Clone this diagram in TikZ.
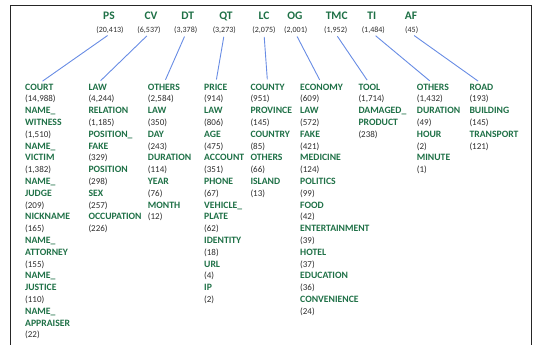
\documentclass[tikz,border=0pt]{standalone}
\usepackage{fontspec}
\setmainfont{Carlito}
\definecolor{lblgreen}{RGB}{30,112,70}
\definecolor{linkblue}{RGB}{104,140,228}
\definecolor{cntgray}{RGB}{45,45,45}
\newcommand{\lb}[1]{{\fontsize{9.7}{11.8}\selectfont\bfseries\color{lblgreen}#1}}
\tikzset{
  cat/.style={font=\fontsize{11.5}{12}\selectfont\bfseries, text=lblgreen, inner sep=0pt, anchor=base},
  total/.style={font=\fontsize{8}{9}\selectfont, text=cntgray, inner sep=0pt, anchor=base},
  head/.style={font=\fontsize{9.7}{11.8}\selectfont\bfseries, text=lblgreen, inner sep=0pt, anchor=base west},
  sub/.style={font=\fontsize{9}{11.8}\selectfont, text=cntgray, align=left, inner sep=0pt, anchor=north west},
  link/.style={draw=linkblue, line width=0.9pt, shorten <=3pt, shorten >=4pt}
}
\begin{document}
\begin{tikzpicture}[x=1pt, y=-1pt]
		\useasboundingbox (0,0) rectangle (533,345);
		\draw[line width=1.3pt, draw=black!85] (10.5,346) -- (10.5,5.5) -- (531.5,5.5) -- (531.5,346);
		% categories
		\node[cat] (ps)at(109,19.4) {PS};
		\node[cat] (cv)at(151,19.4) {CV};
		\node[cat] (dt)at(187.7,19.4) {DT};
		\node[cat] (qt)at(226,19.4) {QT};
		\node[cat] (lc)at(264,19.4) {LC};
		\node[cat] (og)at(295,19.4) {OG};
		\node[cat] (tmc)at(336.7,19.4) {TMC};
		\node[cat] (ti)at(371.7,19.4) {TI};
		\node[cat] (af)at(411,19.4) {AF};
		\node[total] (psn)at(110,32.5) {(20,413)};
		\node[total] (cvn)at(149,32.5) {(6,537)};
		\node[total] (dtn)at(185.7,32.5) {(3,378)};
		\node[total] (qtn)at(224.3,32.5) {(3,273)};
		\node[total] (lcn)at(264,32.5) {(2,075)};
		\node[total] (ogn)at(295.7,32.5) {(2,001)};
		\node[total] (tmcn)at(335.7,32.5) {(1,952)};
		\node[total] (tin)at(373.3,32.5) {(1,484)};
		\node[total] (afn)at(411.7,32.5) {(45)};
		% sub-categories
		\node[head] (court)at(25,90) {COURT};
		\node[sub] (courtl)at(25,93.5) {\strut(14,988)\\ \lb{NAME\_}\\ \lb{WITNESS}\\ (1,510)\\ \lb{NAME\_}\\ \lb{VICTIM}\\ (1,382)\\ \lb{NAME\_}\\ \lb{JUDGE}\\ (209)\\ \lb{NICKNAME}\\ (165)\\ \lb{NAME\_}\\ \lb{ATTORNEY}\\ (155)\\ \lb{NAME\_}\\ \lb{JUSTICE}\\ (110)\\ \lb{NAME\_}\\ \lb{APPRAISER}\\ (22)};
		\node[head] (law)at(88.3,90) {LAW};
		\node[sub] (lawl)at(88.3,93.5) {\strut(4,244)\\ \lb{RELATION}\\ (1,185)\\ \lb{POSITION\_}\\ \lb{FAKE}\\ (329)\\ \lb{POSITION}\\ (298)\\ \lb{SEX}\\ (257)\\ \lb{OCCUPATION}\\ (226)};
		\node[head] (others)at(147.7,90) {OTHERS};
		\node[sub] (othersl)at(147.7,93.5) {\strut(2,584)\\ \lb{LAW}\\ (350)\\ \lb{DAY}\\ (243)\\ \lb{DURATION}\\ (114)\\ \lb{YEAR}\\ (76)\\ \lb{MONTH}\\ (12)};
		\node[head] (price)at(204,90) {PRICE};
		\node[sub] (pricel)at(204,93.5) {\strut(914)\\ \lb{LAW}\\ (806)\\ \lb{AGE}\\ (475)\\ \lb{ACCOUNT}\\ (351)\\ \lb{PHONE}\\ (67)\\ \lb{VEHICLE\_}\\ \lb{PLATE}\\ (62)\\ \lb{IDENTITY}\\ (18)\\ \lb{URL}\\ (4)\\ \lb{IP}\\ (2)};
		\node[head] (county)at(250.3,90) {COUNTY};
		\node[sub] (countyl)at(250.3,93.5) {\strut(951)\\ \lb{PROVINCE}\\ (145)\\ \lb{COUNTRY}\\ (85)\\ \lb{OTHERS}\\ (66)\\ \lb{ISLAND}\\ (13)};
		\node[head] (economy)at(300,90) {ECONOMY};
		\node[sub] (economyl)at(300,93.5) {\strut(609)\\ \lb{LAW}\\ (572)\\ \lb{FAKE}\\ (421)\\ \lb{MEDICINE}\\ (124)\\ \lb{POLITICS}\\ (99)\\ \lb{FOOD}\\ (42)\\ \lb{ENTERTAINMENT}\\ (39)\\ \lb{HOTEL}\\ (37)\\ \lb{EDUCATION}\\ (36)\\ \lb{CONVENIENCE}\\ (24)};
		\node[head] (tool)at(358.3,90) {TOOL};
		\node[sub] (tooll)at(358.3,93.5) {\strut(1,714)\\ \lb{DAMAGED\_}\\ \lb{PRODUCT}\\ (238)};
		\node[head] (othersb)at(416.7,90) {OTHERS};
		\node[sub] (othersbl)at(416.7,93.5) {\strut(1,432)\\ \lb{DURATION}\\ (49)\\ \lb{HOUR}\\ (2)\\ \lb{MINUTE}\\ (1)};
		\node[head] (road)at(469.3,90) {ROAD};
		\node[sub] (roadl)at(469.3,93.5) {\strut(193)\\ \lb{BUILDING}\\ (145)\\ \lb{TRANSPORT}\\ (121)};
		% links
		\draw[link] (psn.south) -- (court.north);
		\draw[link] (cvn.south) -- (law.north);
		\draw[link] (dtn.south) -- (others.north);
		\draw[link] (qtn.south) -- (price.north);
		\draw[link] (lcn.south) -- (county.north);
		\draw[link] (ogn.south) -- (economy.north);
		\draw[link] (tmcn.south) -- (tool.north);
		\draw[link] (tin.south) -- (othersb.north);
		\draw[link] (afn.south) -- (road.north);
\end{tikzpicture}
\end{document}
